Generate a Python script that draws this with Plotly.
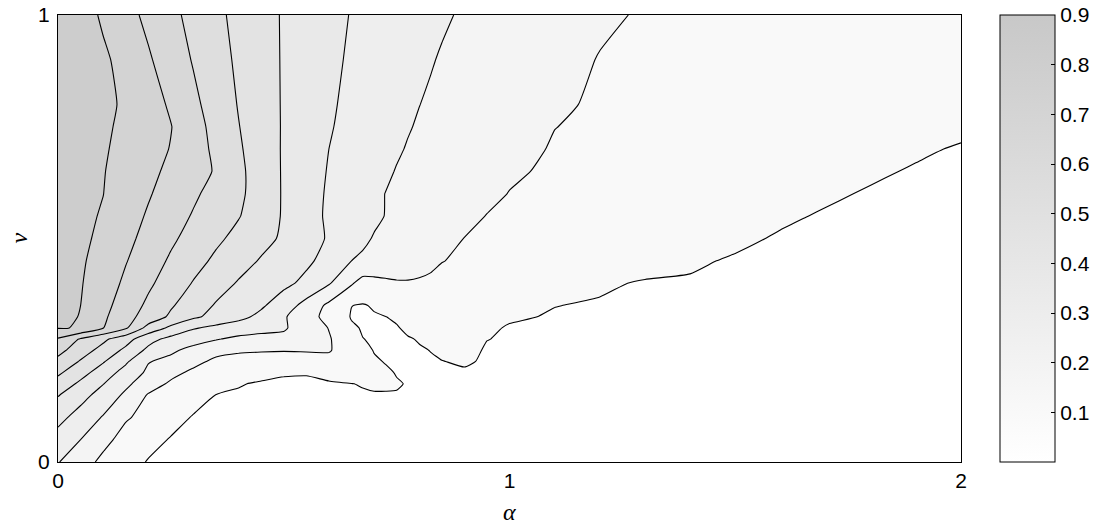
import plotly.graph_objects as go

# ---- data ----
alpha_values = [0, 0.05, 0.1, 0.15, 0.2, 0.25, 0.3, 0.35, 0.4, 0.45, 0.5,
                0.55, 0.6, 0.65, 0.675, 0.7, 0.725, 0.75, 0.775, 0.8, 0.825,
                0.85, 0.9, 0.95, 1.0, 1.1, 1.2, 1.3, 1.4, 1.5, 1.6, 1.7,
                1.8, 1.9, 2.0]
v_values = [0, 0.05, 0.1, 0.15, 0.175, 0.2, 0.225, 0.25, 0.275, 0.3, 0.325,
            0.35, 0.4, 0.45, 0.5, 0.55, 0.6, 0.65, 0.7, 0.75, 0.8, 0.9, 1.0]

# one row per v value, one column per alpha value
z_values = [
    # v = 0
    [0.21, 0.144, 0.084, 0.038, 0, 0, 0, 0, 0, 0, 0, 0, 0, 0, 0, 0, 0, 0, 0, 0,
     0, 0, 0, 0, 0, 0, 0, 0, 0, 0, 0, 0, 0, 0, 0],
    # v = 0.05
    [0.267, 0.205, 0.13, 0.074, 0.031, 0, 0, 0, 0, 0, 0, 0, 0, 0, 0, 0, 0, 0, 0, 0,
     0, 0, 0, 0, 0, 0, 0, 0, 0, 0, 0, 0, 0, 0, 0],
    # v = 0.1
    [0.335, 0.266, 0.198, 0.114, 0.079, 0.032, 0, 0, 0, 0, 0, 0, 0, 0, 0, 0, 0, 0, 0, 0,
     0, 0, 0, 0, 0, 0, 0, 0, 0, 0, 0, 0, 0, 0, 0],
    # v = 0.15
    [0.411, 0.34, 0.267, 0.188, 0.098, 0.067, 0.036, 0.004, 0, 0, 0, 0, 0, 0, 0, 0, 0, 0, 0, 0,
     0, 0, 0, 0, 0, 0, 0, 0, 0, 0, 0, 0, 0, 0, 0],
    # v = 0.175
    [0.467, 0.386, 0.308, 0.226, 0.149, 0.091, 0.062, 0.035, 0.008, 0, 0, 0, 0, 0.004, 0.008, 0.015, 0.015, 0.012, 0, 0,
     0, 0, 0, 0, 0, 0, 0, 0, 0, 0, 0, 0, 0, 0, 0],
    # v = 0.2
    [0.522, 0.441, 0.356, 0.268, 0.187, 0.131, 0.087, 0.059, 0.045, 0.02, 0.008, 0.007, 0.02, 0.05, 0.035, 0.02, 0.02, 0, 0, 0,
     0, 0, 0, 0, 0, 0, 0, 0, 0, 0, 0, 0, 0, 0, 0],
    # v = 0.225
    [0.578, 0.497, 0.414, 0.321, 0.21, 0.18, 0.13, 0.086, 0.076, 0.068, 0.062, 0.067, 0.089, 0.098, 0.05, 0.018, 0, 0, 0, 0,
     0, 0.004, 0.01, 0, 0, 0, 0, 0, 0, 0, 0, 0, 0, 0, 0],
    # v = 0.25
    [0.636, 0.55, 0.472, 0.383, 0.283, 0.222, 0.176, 0.135, 0.116, 0.112, 0.11, 0.112, 0.109, 0.077, 0.04, 0, 0, 0, 0, 0,
     0.006, 0.014, 0.021, 0, 0, 0, 0, 0, 0, 0, 0, 0, 0, 0, 0],
    # v = 0.275
    [0.695, 0.596, 0.525, 0.446, 0.339, 0.277, 0.244, 0.211, 0.184, 0.176, 0.184, 0.14, 0.112, 0.048, 0.006, 0, 0, 0, 0, 0.009,
     0.022, 0.027, 0.03, 0.006, 0, 0, 0, 0, 0, 0, 0, 0, 0, 0, 0],
    # v = 0.3
    [0.81, 0.80, 0.708, 0.618, 0.473, 0.383, 0.314, 0.281, 0.258, 0.234, 0.215, 0.16, 0.102, 0.015, 0, 0, 0, 0, 0.018, 0.032,
     0.036, 0.039, 0.038, 0.015, 0, 0, 0, 0, 0, 0, 0, 0, 0, 0, 0],
    # v = 0.325
    [0.825, 0.802, 0.722, 0.64, 0.563, 0.489, 0.423, 0.373, 0.331, 0.282, 0.215, 0.146, 0.073, 0, 0, 0, 0.004, 0.015, 0.039, 0.046,
     0.05, 0.05, 0.046, 0.024, 0.013, 0, 0, 0, 0, 0, 0, 0, 0, 0, 0],
    # v = 0.35
    [0.83, 0.805, 0.735, 0.659, 0.586, 0.515, 0.454, 0.396, 0.357, 0.318, 0.255, 0.171, 0.084, 0.006, 0, 0.011, 0.033, 0.049, 0.06, 0.063,
     0.065, 0.061, 0.054, 0.033, 0.021, 0.006, 0, 0, 0, 0, 0, 0, 0, 0, 0],
    # v = 0.4
    [0.84, 0.811, 0.756, 0.687, 0.622, 0.56, 0.499, 0.447, 0.397, 0.362, 0.327, 0.283, 0.214, 0.115, 0.068, 0.076, 0.088, 0.097, 0.099, 0.097,
     0.093, 0.084, 0.071, 0.05, 0.037, 0.018, 0.013, 0, 0, 0, 0, 0, 0, 0, 0],
    # v = 0.45
    [0.845, 0.816, 0.772, 0.71, 0.651, 0.592, 0.539, 0.487, 0.442, 0.397, 0.36, 0.322, 0.273, 0.205, 0.19, 0.178, 0.166, 0.154, 0.142, 0.13,
     0.119, 0.107, 0.094, 0.086, 0.078, 0.062, 0.046, 0.03, 0.012, 0, 0, 0, 0, 0, 0],
    # v = 0.5
    [0.85, 0.822, 0.787, 0.73, 0.675, 0.621, 0.571, 0.523, 0.478, 0.434, 0.391, 0.343, 0.296, 0.247, 0.222, 0.199, 0.187, 0.175, 0.163, 0.152,
     0.14, 0.128, 0.104, 0.094, 0.087, 0.073, 0.058, 0.044, 0.03, 0.015, 0, 0, 0, 0, 0],
    # v = 0.55
    [0.855, 0.827, 0.797, 0.746, 0.695, 0.646, 0.597, 0.553, 0.51, 0.455, 0.396, 0.341, 0.291, 0.256, 0.238, 0.221, 0.203, 0.191, 0.18, 0.169,
     0.158, 0.147, 0.125, 0.103, 0.094, 0.081, 0.068, 0.054, 0.041, 0.027, 0.013, 0, 0, 0, 0],
    # v = 0.6
    [0.86, 0.832, 0.806, 0.759, 0.713, 0.667, 0.62, 0.572, 0.523, 0.463, 0.396, 0.343, 0.294, 0.258, 0.24, 0.222, 0.204, 0.193, 0.184, 0.175,
     0.166, 0.157, 0.139, 0.121, 0.103, 0.0885, 0.076, 0.063, 0.051, 0.038, 0.026, 0.013, 0, 0, 0],
    # v = 0.65
    [0.865, 0.837, 0.809, 0.771, 0.728, 0.685, 0.641, 0.597, 0.526, 0.459, 0.396, 0.348, 0.299, 0.267, 0.25, 0.234, 0.218, 0.201, 0.192, 0.184,
     0.175, 0.166, 0.149, 0.132, 0.115, 0.0935, 0.082, 0.071, 0.059, 0.048, 0.036, 0.025, 0.013, 0, 0],
    # v = 0.7
    [0.87, 0.842, 0.814, 0.78, 0.74, 0.701, 0.645, 0.586, 0.517, 0.455, 0.396, 0.351, 0.305, 0.274, 0.259, 0.244, 0.229, 0.214, 0.2, 0.192,
     0.184, 0.176, 0.16, 0.144, 0.129, 0.099, 0.088, 0.077, 0.066, 0.056, 0.045, 0.034, 0.023, 0.013, 0],
    # v = 0.75
    [0.875, 0.847, 0.819, 0.787, 0.748, 0.708, 0.643, 0.574, 0.508, 0.451, 0.397, 0.354, 0.312, 0.28, 0.266, 0.252, 0.238, 0.224, 0.21, 0.198,
     0.19, 0.182, 0.167, 0.152, 0.137, 0.106, 0.093, 0.083, 0.074, 0.065, 0.055, 0.046, 0.037, 0.027, 0.018],
    # v = 0.8
    [0.88, 0.852, 0.824, 0.793, 0.744, 0.693, 0.626, 0.562, 0.50, 0.448, 0.397, 0.357, 0.317, 0.285, 0.271, 0.258, 0.245, 0.232, 0.219, 0.206,
     0.196, 0.188, 0.174, 0.159, 0.144, 0.115, 0.096, 0.088, 0.079, 0.071, 0.063, 0.055, 0.046, 0.038, 0.03],
    # v = 0.9
    [0.89, 0.855, 0.82, 0.775, 0.716, 0.657, 0.598, 0.542, 0.489, 0.443, 0.397, 0.361, 0.326, 0.293, 0.282, 0.27, 0.258, 0.246, 0.234, 0.222,
     0.21, 0.199, 0.185, 0.171, 0.158, 0.13, 0.102, 0.094, 0.087, 0.08, 0.073, 0.066, 0.059, 0.052, 0.045],
    # v = 1.0
    [0.9, 0.846, 0.792, 0.737, 0.683, 0.629, 0.577, 0.526, 0.48, 0.438, 0.397, 0.365, 0.333, 0.301, 0.29, 0.279, 0.268, 0.258, 0.247, 0.236,
     0.225, 0.215, 0.196, 0.183, 0.17, 0.144, 0.117, 0.098, 0.093, 0.087, 0.082, 0.076, 0.071, 0.065, 0.06],
]

if len(z_values) != len(v_values) or any(len(r) != len(alpha_values) for r in z_values):
    raise ValueError("grid shape mismatch: " + str([len(r) for r in z_values]))

x_tick_values = [0, 1, 2]
y_tick_values = [0, 1]
colorbar_tick_values = [0.1, 0.2, 0.3, 0.4, 0.5, 0.6, 0.7, 0.8, 0.9]
colorbar_tick_labels = ["0.1", "0.2", "0.3", "0.4", "0.5", "0.6", "0.7", "0.8", "0.9"]

FONT = "Liberation Sans, Arial, Helvetica, sans-serif"
SERIF = "Liberation Serif, DejaVu Serif, serif"

fig = go.Figure()

# heatmap underneath: only supplies the continuous colour bar
fig.add_trace(go.Heatmap(
    x=alpha_values, y=v_values, z=z_values,
    zmin=0, zmax=0.9,
    colorscale=[[0, "rgb(255,255,255)"], [1, "rgb(200,200,200)"]],
    hoverinfo="skip",
    showscale=True,
    colorbar=dict(
        x=1.0432, xanchor="left", xpad=0,
        y=0.5, yanchor="middle", ypad=0,
        len=1, lenmode="fraction",
        thickness=55, thicknessmode="pixels",
        outlinecolor="black", outlinewidth=1,
        tickmode="array", tickvals=colorbar_tick_values, ticktext=colorbar_tick_labels,
        ticks="inside", ticklen=4, tickcolor="black",
        tickfont=dict(family=FONT, size=21, color="black"),
    ),
))

# filled contour plot
fig.add_trace(go.Contour(
    x=alpha_values, y=v_values, z=z_values,
    autocontour=False,
    contours=dict(start=0.005, end=0.805, size=0.1, coloring="fill", showlines=True),
    colorscale=[[0, "rgb(255,255,255)"], [1, "rgb(205,205,205)"]],
    line=dict(color="black", width=1.1, smoothing=0.5),
    showscale=False,
    hoverinfo="skip",
))

axis_common = dict(
    showgrid=False, zeroline=False, showline=True, mirror=True,
    linecolor="black", linewidth=1, ticks="",
    tickfont=dict(family=FONT, size=21, color="black"),
)

fig.update_layout(
    width=1117, height=528,
    margin=dict(l=58, r=156, t=15, b=66, autoexpand=False),
    paper_bgcolor="white", plot_bgcolor="white",
    xaxis=dict(range=[0, 2], tickvals=x_tick_values, ticktext=["0", "1", "2"],
               ticklabelstandoff=0, **axis_common),
    yaxis=dict(range=[0, 1], tickvals=y_tick_values, ticktext=["0", "1"],
               ticklabelstandoff=3, **axis_common),
    showlegend=False,
    annotations=[
        dict(text="<i>α</i>", xref="paper", yref="paper", x=0.5, y=0,
             yshift=-50, showarrow=False,
             font=dict(family=SERIF, size=24, color="black"),
             xanchor="center", yanchor="middle"),
        dict(text="<i>v</i>", xref="paper", yref="paper", x=0, y=0.5,
             xshift=-40, showarrow=False, textangle=-90,
             font=dict(family=SERIF, size=24, color="black"),
             xanchor="center", yanchor="middle"),
    ],
)

fig.write_html("out.html", config={"displayModeBar": False},
               post_script="document.body.style.margin='0px';")
